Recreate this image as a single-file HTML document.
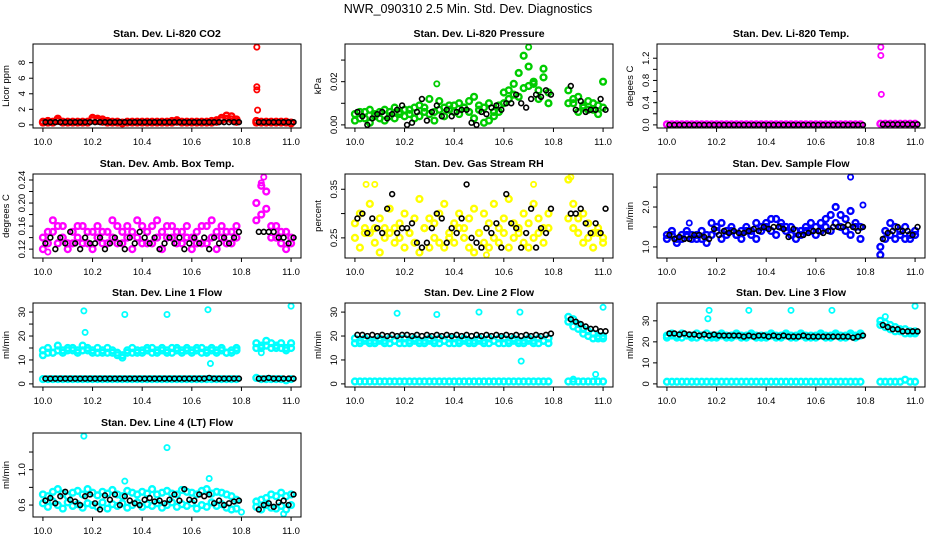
<!DOCTYPE html>
<html><head><meta charset="utf-8"><style>
html,body{margin:0;padding:0;background:#fff;}
svg{display:block;font-family:"Liberation Sans",sans-serif;}
</style></head><body>
<svg id="chart" width="936" height="540" viewBox="0 0 936 540" xmlns="http://www.w3.org/2000/svg">
<rect width="936" height="540" fill="#fff"/>
<text x="468" y="13" text-anchor="middle" font-size="12.5">NWR_090310  2.5 Min. Std. Dev. Diagnostics</text>
</svg>
<script>
const times=[10.00,10.02,10.04,10.06,10.08,10.10,10.12,10.14,10.16,10.18,10.20,10.22,10.24,10.26,10.28,10.30,10.32,10.34,10.36,10.38,10.40,10.42,10.44,10.46,10.48,10.50,10.52,10.54,10.56,10.58,10.60,10.62,10.64,10.66,10.68,10.70,10.72,10.74,10.76,10.78,10.86,10.88,10.90,10.92,10.94,10.96,10.98,11.00];

const co2A=[0.4,0.5,0.4,0.8,0.4,0.4,0.4,0.4,0.4,0.4,0.9,0.8,0.7,0.5,0.4,0.4,0.3,0.4,0.4,0.4,0.4,0.4,0.4,0.4,0.4,0.4,0.5,0.6,0.4,0.4,0.4,0.4,0.4,0.4,0.5,0.6,0.9,1.2,1.1,0.7,0.5,0.4,0.4,0.4,0.4,0.4,0.4,0.3];
const co2B=[0.3,0.3,0.3,0.5,0.3,0.3,0.3,0.3,0.3,0.3,0.6,0.5,0.4,0.3,0.3,0.3,0.2,0.3,0.3,0.3,0.3,0.3,0.3,0.3,0.3,0.3,0.3,0.4,0.3,0.3,0.3,0.3,0.3,0.3,0.3,0.4,0.6,0.8,0.7,0.4,0.3,0.3,0.3,0.3,0.3,0.3,0.3,0.2];
const co2K=[0.35,0.35,0.35,0.35,0.35,0.35,0.35,0.35,0.35,0.35,0.35,0.35,0.35,0.35,0.35,0.35,0.35,0.35,0.35,0.35,0.35,0.35,0.35,0.35,0.35,0.35,0.35,0.35,0.35,0.35,0.35,0.35,0.35,0.35,0.35,0.35,0.35,0.35,0.35,0.35,0.35,0.35,0.35,0.35,0.35,0.35,0.35,0.35];
const co2X=[[10.862,10],[10.862,4.9],[10.862,4.5],[10.865,1.9]];

const presA=[.005,.006,.003,.007,.004,.006,.007,.004,.008,.006,.007,.005,.008,.009,.006,.012,.006,.011,.008,.007,.009,.010,.008,.011,.013,.009,.008,.010,.004,.006,.015,.016,.019,.024,.017,.018,.020,.016,.022,.015,.016,.010,.013,.008,.011,.007,.009,.020];
const presB=[.002,.003,.006,.001,.005,.003,.002,.006,.003,.005,.004,.007,.003,.004,.008,.005,.002,.007,.004,.009,.006,.005,.008,.006,.003,.007,.001,.002,.006,.009,.010,.012,.014,.013,.032,.027,.019,.012,.026,.010,.010,.012,.006,.009,.007,.010,.005,.008];
const presK=[.006,.004,.000,.003,.005,.006,.003,.005,.007,.009,.000,.001,.006,.012,.002,.006,.009,.004,.007,.004,.006,.007,.007,.001,.000,.006,.005,.008,.009,.007,.010,.010,.014,.010,.008,.012,.014,.013,.016,.014,.018,.007,.011,.006,.007,.007,.012,.007];
const presX=[[10.70,0.036],[10.33,0.019]];

const tempA=[0.01,0.01,0.01,0.01,0.01,0.01,0.01,0.01,0.01,0.01,0.01,0.01,0.01,0.01,0.01,0.01,0.01,0.01,0.01,0.01,0.01,0.01,0.01,0.01,0.01,0.01,0.01,0.01,0.01,0.01,0.01,0.01,0.01,0.01,0.01,0.01,0.01,0.01,0.01,0.01,0.02,0.02,0.02,0.02,0.02,0.02,0.02,0.02];
const tempK=[0,0,0,0,0,0,0,0,0,0,0,0,0,0,0,0,0,0,0,0,0,0,0,0,0,0,0,0,0,0,0,0,0,0,0,0,0,0,0,0,0.01,0.01,0.01,0.01,0.01,0.01,0.01,0.01];
const tempX=[[10.862,1.4],[10.862,1.25],[10.864,0.55]];

const ambA=[.14,.13,.15,.16,.14,.13,.15,.14,.16,.13,.15,.14,.13,.15,.14,.16,.13,.14,.15,.14,.16,.15,.13,.14,.15,.16,.14,.13,.15,.14,.14,.15,.13,.16,.14,.15,.14,.13,.15,.14,.20,.23,.19,.16,.14,.13,.15,.13];
const ambB=[.12,.15,.17,.13,.16,.12,.13,.16,.13,.15,.12,.16,.15,.13,.17,.13,.15,.16,.12,.17,.13,.13,.16,.17,.12,.14,.16,.15,.13,.16,.12,.13,.16,.13,.17,.12,.16,.15,.13,.16,.17,.18,.22,.14,.16,.15,.12,.14];
const ambK=[.13,.14,.12,.14,.13,.15,.13,.12,.14,.13,.13,.14,.12,.13,.14,.13,.12,.14,.13,.15,.14,.13,.14,.12,.13,.14,.13,.14,.12,.13,.14,.13,.14,.12,.14,.13,.14,.13,.14,.15,.15,.15,.15,.15,.14,.14,.13,.14];
const ambX=[[10.89,0.245],[10.88,0.235],[10.02,0.115]];

const rhA=[.28,.30,.26,.32,.27,.29,.25,.31,.27,.28,.30,.26,.29,.33,.27,.29,.28,.30,.32,.26,.28,.30,.27,.29,.31,.26,.30,.28,.32,.27,.29,.33,.28,.26,.30,.28,.32,.29,.27,.30,.37,.32,.29,.30,.28,.26,.27,.25];
const rhB=[.25,.23,.27,.26,.24,.22,.27,.26,.24,.25,.23,.26,.24,.22,.27,.23,.25,.24,.23,.25,.24,.27,.25,.23,.22,.26,.24,.23,.25,.24,.26,.23,.25,.27,.24,.23,.25,.26,.24,.27,.29,.27,.26,.24,.25,.23,.26,.24];
const rhK=[.29,.30,.26,.29,.27,.26,.31,.34,.26,.27,.27,.28,.24,.23,.24,.27,.30,.29,.24,.27,.26,.29,.36,.25,.24,.23,.27,.26,.28,.23,.34,.28,.27,.23,.26,.31,.23,.27,.26,.31,.30,.30,.31,.28,.26,.28,.26,.31];
const rhX=[[10.045,0.36],[10.08,0.36],[10.72,0.36],[10.87,0.375],[10.53,0.215]];

const sfA=[1.3,1.4,1.2,1.3,1.4,1.3,1.2,1.4,1.3,1.6,1.5,1.6,1.4,1.5,1.3,1.4,1.5,1.4,1.6,1.5,1.6,1.7,1.7,1.6,1.5,1.5,1.4,1.4,1.5,1.6,1.5,1.6,1.7,1.8,2.0,1.8,1.7,1.9,1.6,1.5,1.0,1.4,1.6,1.5,1.4,1.5,1.3,1.4];
const sfB=[1.2,1.3,1.1,1.2,1.3,1.2,1.3,1.2,1.1,1.3,1.4,1.2,1.3,1.4,1.3,1.2,1.4,1.3,1.2,1.4,1.5,1.4,1.3,1.5,1.4,1.3,1.2,1.3,1.4,1.4,1.3,1.4,1.5,1.4,1.6,1.5,1.4,1.3,1.5,1.2,0.8,1.2,1.3,1.2,1.3,1.2,1.2,1.3];
const sfK=[1.3,1.2,1.25,1.2,1.2,1.3,1.3,1.25,1.2,1.45,1.3,1.4,1.35,1.4,1.35,1.35,1.4,1.45,1.4,1.5,1.45,1.5,1.5,1.45,1.25,1.45,1.3,1.3,1.35,1.4,1.4,1.35,1.4,1.5,1.5,1.5,1.55,1.5,1.4,1.5,1.2,1.35,1.4,1.5,1.4,1.4,1.3,1.5];
const sfX=[[10.74,2.75],[10.79,2.05],[10.09,1.6]];

const l1A=[14,15,13,16,14,15,15,14,16,15,14,15,13,15,14,13,12,14,15,14,14,15,15,14,15,14,15,15,14,15,14,15,15,14,15,14,15,13,14,15,17,16,18,17,16,17,15,17];
const l1B=[12,13,13,14,13,14,14,13,14,14,13,13,14,13,13,12,11,13,13,13,13,14,13,13,14,13,13,14,13,14,13,14,13,13,14,13,14,13,13,14,15,15,16,15,15,15,14,15];
const l1C=[2,2,2,2,2,2,2,2,2,2,2,2,2,2,2,2,2,2,2,2,2,2,2,2,2,2,2,2,2,2,2,2,2,2,2,2,2,2,2,2,2.5,2,2,2,2,2,1.5,2];
const l1K=[2.2,2.2,2.2,2.2,2.2,2.2,2.2,2.2,2.2,2.2,2.2,2.2,2.2,2.2,2.2,2.2,2.2,2.2,2.2,2.2,2.2,2.2,2.2,2.2,2.2,2.2,2.2,2.2,2.2,2.2,2.2,2.2,2.2,2.5,2.2,2.2,2.2,2.2,2.2,2.2,2.2,2.2,2.5,2.2,2.2,2.2,2.2,2.2];
const l1X=[[10.165,30.5],[10.17,21.5],[10.33,29],[10.5,29],[10.665,31],[10.675,8.5],[11.0,32.5],[10.88,13]];

const l2A=[19,18,19,18,18,19,18,19,18,19,19,18,19,18,18,19,18,19,18,19,19,18,19,18,18,19,18,19,18,19,19,18,19,18,18,19,18,19,18,19,28,27,25,23,22,21,20,20];
const l2B=[17,17,18,17,17,18,17,17,18,17,17,17,18,17,17,18,17,17,18,17,17,17,18,17,17,18,17,17,18,17,17,17,18,17,17,18,17,17,18,17,26,24,23,21,20,19,19,19];
const l2C=[1,1,1,1,1,1,1,1,1,1,1,1,1,1,1,1,1,1,1,1,1,1,1,1,1,1,1,1,1,1,1,1,1,1,1,1,1,1,1,1,1,1,1,1,1,1,1,1];
const l2K=[20.5,20.5,20,20.5,20,20.5,20,20.5,20,20.5,20.5,20,20.5,20,20.5,20,20.5,20,20.5,20,20.5,20,20.5,20,20.5,20,20.5,20,20.5,20,20.5,20,20.5,20,20.5,20,20.5,20,20.5,21,27,26,25,24,23,23,22,22];
const l2X=[[10.17,29.5],[10.33,29],[10.5,30],[10.665,30],[10.67,9.5],[11.0,32],[10.97,4],[10.88,2]];

const l3A=[23,24,23,24,23,23,24,23,24,23,23,24,23,23,24,23,23,24,23,23,23,24,23,23,24,23,23,24,23,23,23,24,23,23,24,23,23,24,23,24,30,29,28,27,26,26,25,25];
const l3B=[22,23,22,22,23,22,22,23,22,22,22,23,22,22,23,22,22,23,22,22,22,23,22,22,23,22,22,23,22,22,22,23,22,22,23,22,22,23,22,23,28,27,26,25,25,24,24,24];
const l3C=[1,1,1,1,1,1,1,1,1,1,1,1,1,1,1,1,1,1,1,1,1,1,1,1,1,1,1,1,1,1,1,1,1,1,1,1,1,1,1,1,1,1,1,1,1,2,1,1];
const l3K=[24,24,23.5,24,23.5,23.5,23,23.5,23,23.5,23,23,23,23,23,22.5,23,22.5,23,23,22.5,23,22.5,23,22.5,22.5,22.5,23,22.5,22.5,22.5,22.5,22.5,22.5,22.5,22.5,22.5,22,22.5,23,28,27,26,26,25,25,25,25];
const l3X=[[10.17,35],[10.165,31],[10.33,35],[10.5,35],[10.665,35],[11.0,37],[10.88,32]];

const l4A=[.72,.70,.75,.78,.73,.70,.74,.76,.72,.78,.74,.71,.75,.73,.77,.72,.70,.76,.74,.72,.75,.73,.78,.72,.74,.76,.73,.72,.77,.75,.74,.72,.76,.78,.73,.75,.74,.72,.70,.66,.64,.66,.68,.72,.70,.74,.70,.72];
const l4B=[.62,.58,.64,.60,.56,.63,.59,.61,.57,.62,.60,.58,.63,.56,.61,.59,.62,.57,.60,.63,.58,.61,.59,.62,.57,.60,.63,.58,.61,.59,.62,.56,.60,.58,.63,.59,.61,.57,.55,.56,.58,.55,.60,.57,.56,.59,.55,.60];
const l4K=[.65,.68,.62,.70,.75,.66,.64,.60,.70,.72,.62,.55,.71,.66,.72,.60,.70,.65,.62,.60,.66,.68,.64,.65,.62,.66,.72,.65,.78,.66,.65,.72,.70,.72,.62,.65,.60,.62,.64,.65,.55,.60,.62,.58,.63,.65,.60,.72];
const l4X=[[10.165,1.38],[10.5,1.25],[10.67,0.9],[10.33,0.87],[10.80,0.52],[10.97,0.5]];

const xTicks=[10.0,10.2,10.4,10.6,10.8,11.0];
const xTickLabels=["10.0","10.2","10.4","10.6","10.8","11.0"];

const panels=[
 {id:'co2',title:'Stan. Dev. Li-820 CO2',yl:'Licor ppm',col:0,row:0,ymin:0,ymax:10,ticks:[0,2,4,6,8],labs:['0','2','4','6','8'],color:'#ff0000',series:[co2A,co2B],k:co2K,extra:co2X},
 {id:'pressure',title:'Stan. Dev. Li-820 Pressure',yl:'kPa',col:1,row:0,ymin:0,ymax:0.036,ticks:[0,0.01,0.02,0.03],labs:['0.00','','0.02',''],color:'#00cc00',series:[presA,presB],k:presK,extra:presX},
 {id:'temp',title:'Stan. Dev. Li-820 Temp.',yl:'degees C',col:2,row:0,ymin:0,ymax:1.4,ticks:[0,0.2,0.4,0.6,0.8,1.0,1.2],labs:['0.0','','0.4','','0.8','','1.2'],color:'#ff00ff',series:[tempA],k:tempK,extra:tempX},
 {id:'amb-box',title:'Stan. Dev. Amb. Box Temp.',yl:'degrees C',col:0,row:1,ymin:0.11,ymax:0.245,ticks:[0.12,0.14,0.16,0.18,0.20,0.22,0.24],labs:['0.12','','0.16','','0.20','','0.24'],color:'#ff00ff',series:[ambA,ambB],k:ambK,extra:ambX},
 {id:'rh',title:'Stan. Dev. Gas Stream RH',yl:'percent',col:1,row:1,ymin:0.215,ymax:0.375,ticks:[0.25,0.30,0.35],labs:['0.25','','0.35'],color:'#ffff00',series:[rhA,rhB],k:rhK,extra:rhX},
 {id:'sample-flow',title:'Stan. Dev. Sample Flow',yl:'ml/min',col:2,row:1,ymin:0.8,ymax:2.75,ticks:[1.0,1.5,2.0,2.5],labs:['1.0','','2.0',''],color:'#0000ff',series:[sfA,sfB],k:sfK,extra:sfX},
 {id:'line1',title:'Stan. Dev. Line 1 Flow',yl:'ml/min',col:0,row:2,ymin:0,ymax:32.5,ticks:[0,5,10,15,20,25,30],labs:['0','','10','','20','','30'],color:'#00ffff',series:[l1A,l1B,l1C],k:l1K,extra:l1X},
 {id:'line2',title:'Stan. Dev. Line 2 Flow',yl:'ml/min',col:1,row:2,ymin:0,ymax:32.5,ticks:[0,10,20,30],labs:['0','10','20','30'],color:'#00ffff',series:[l2A,l2B,l2C],k:l2K,extra:l2X},
 {id:'line3',title:'Stan. Dev. Line 3 Flow',yl:'ml/min',col:2,row:2,ymin:0,ymax:37,ticks:[0,10,20,30],labs:['0','10','20','30'],color:'#00ffff',series:[l3A,l3B,l3C],k:l3K,extra:l3X},
 {id:'line4',title:'Stan. Dev. Line 4 (LT) Flow',yl:'ml/min',col:0,row:3,ymin:0.5,ymax:1.38,ticks:[0.6,0.8,1.0,1.2],labs:['0.6','','1.0',''],color:'#00ffff',series:[l4A,l4B],k:l4K,extra:l4X}
];

const NS='http://www.w3.org/2000/svg';
const svg=document.getElementById('chart');
function mk(tag,attrs,parent){const e=document.createElementNS(NS,tag);for(const k in attrs)e.setAttribute(k,attrs[k]);(parent||svg).appendChild(e);return e;}
const rowTops=[44,174,303,433];
panels.forEach(p=>{
  const L=33+p.col*312, R=L+268, T=rowTops[p.row], B=T+84;
  const xs=v=>L+(v-9.96)/1.08*(R-L);
  const span=p.ymax-p.ymin, y0=p.ymin-0.04*span, y1=p.ymax+0.04*span;
  const ys=v=>B-(v-y0)/(y1-y0)*(B-T);
  const g=mk('g',{});
  
  
  const t=mk('text',{x:(L+R)/2,y:T-7,'text-anchor':'middle','font-size':'10.5','font-weight':'bold'},g);
  t.textContent=p.title;
  
  
  const yl=mk('text',{transform:`translate(${L-24},${(T+B)/2}) rotate(-90)`,'text-anchor':'middle','font-size':'9.5'},g);
  yl.textContent=p.yl;
  
  
  const cid='clip-'+p.id;
  const cp=mk('clipPath',{id:cid},g);
  mk('rect',{x:L,y:T,width:R-L,height:B-T},cp);
  const pts=mk('g',{'clip-path':`url(#${cid})`,fill:'none'},g);
  
  
  p.series.forEach(arr=>{
    arr.forEach((v,i)=>{
      const c=mk('circle',{cx:xs(times[i]),cy:ys(v),r:2.9,stroke:p.color,'stroke-width':'2.4'},pts);
      
      
    });
  });
  p.extra.forEach(d=>{
    const c=mk('circle',{cx:xs(d[0]),cy:ys(d[1]),r:2.6,stroke:p.color,'stroke-width':'1.8'},pts);
    
    
  });
  p.k.forEach((v,i)=>{
    const c=mk('circle',{cx:xs(times[i]+0.01),cy:ys(v),r:2.4,stroke:'#000','stroke-width':'1.6'},pts);
    
    
  });
  const box=mk('rect',{x:L,y:T,width:R-L,height:B-T,fill:'none',stroke:'#000','stroke-width':'1'},g);
  
  
  xTicks.forEach((v,i)=>{
    mk('line',{x1:xs(v),x2:xs(v),y1:B,y2:B+4,stroke:'#000'},g);
    const tl=mk('text',{x:xs(v),y:B+17,'text-anchor':'middle','font-size':'9.5'},g);
    tl.textContent=xTickLabels[i];
    
    
  });
  p.ticks.forEach((v,i)=>{
    mk('line',{x1:L-4,x2:L,y1:ys(v),y2:ys(v),stroke:'#000'},g);
    if(p.labs[i]){
      const tl=mk('text',{transform:`translate(${L-8},${ys(v)}) rotate(-90)`,'text-anchor':'middle','font-size':'9.5'},g);
      tl.textContent=p.labs[i];
      
      
    }
  });
});
</script>
</body></html>
